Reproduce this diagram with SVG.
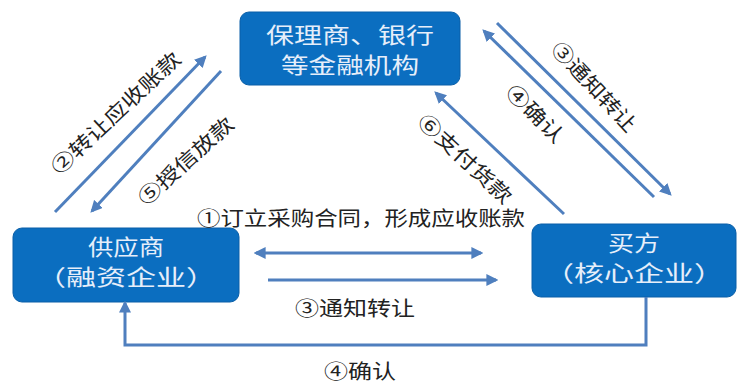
<svg xmlns="http://www.w3.org/2000/svg" width="747" height="385" viewBox="0 0 747 385">
<style>
.box{fill:#0b6ec0;stroke:#0a5fa8;stroke-width:1}
.bt{font-family:"Noto Sans CJK SC","Noto Sans",sans-serif;font-size:22px;fill:#e6eefa;text-anchor:middle}
.lb{font-family:"Noto Sans CJK SC","Noto Sans",sans-serif;font-size:20px;fill:#222;text-anchor:middle;dominant-baseline:central}
.ln{fill:none;stroke:#4f7fbe;stroke-width:3}
</style>
<defs>
<marker id="ah" viewBox="0 0 10 10" refX="8" refY="5" markerWidth="4" markerHeight="4" orient="auto-start-reverse" markerUnits="strokeWidth">
<path d="M0,0 L10,5 L0,10 z" fill="#4f7fbe"/>
</marker>
</defs>
<rect width="747" height="385" fill="#fff"/>
<g id="bank">
<rect class="box" x="240" y="12" width="220" height="73" rx="9"/>
<text class="bt" x="350" y="43" textLength="168" lengthAdjust="spacingAndGlyphs">保理商、银行</text>
<text class="bt" x="350" y="73" textLength="138" lengthAdjust="spacingAndGlyphs">等金融机构</text>
</g>
<g id="supplier">
<rect class="box" x="13" y="228" width="226" height="74" rx="9"/>
<text class="bt" x="126" y="255" textLength="76" lengthAdjust="spacingAndGlyphs">供应商</text>
<text class="bt" x="126" y="285" textLength="180" lengthAdjust="spacingAndGlyphs">（融资企业）</text>
</g>
<g id="buyer">
<rect class="box" x="532" y="224" width="204" height="73" rx="9"/>
<text class="bt" x="634" y="251" textLength="52" lengthAdjust="spacingAndGlyphs">买方</text>
<text class="bt" x="634" y="281" textLength="180" lengthAdjust="spacingAndGlyphs">（核心企业）</text>
</g>
<g id="connectors">
<line class="ln" x1="55" y1="212" x2="205" y2="57" marker-end="url(#ah)"/>
<line class="ln" x1="221" y1="71" x2="92" y2="211" marker-end="url(#ah)"/>
<line class="ln" x1="497" y1="23" x2="670" y2="194" marker-end="url(#ah)"/>
<line class="ln" x1="654" y1="197" x2="484" y2="31" marker-end="url(#ah)"/>
<line class="ln" x1="564" y1="214" x2="436" y2="93" marker-end="url(#ah)"/>
<line class="ln" x1="256" y1="253" x2="481" y2="253" marker-start="url(#ah)" marker-end="url(#ah)"/>
<line class="ln" x1="268" y1="280" x2="496" y2="280" marker-end="url(#ah)"/>
<polyline class="ln" points="646,297 646,345 125,345 125,303" marker-end="url(#ah)"/>
</g>
<g id="labels">
<text class="lb" transform="translate(115,112) rotate(-43)" textLength="168" lengthAdjust="spacingAndGlyphs">②转让应收账款</text>
<text class="lb" transform="translate(185,160) rotate(-42)" textLength="120" lengthAdjust="spacingAndGlyphs">⑤授信放款</text>
<text class="lb" transform="translate(595,86) rotate(47)" textLength="114" lengthAdjust="spacingAndGlyphs">③通知转让</text>
<text class="lb" transform="translate(536,113) rotate(45)" textLength="72" lengthAdjust="spacingAndGlyphs">④确认</text>
<text class="lb" transform="translate(466,158) rotate(43)" textLength="120" lengthAdjust="spacingAndGlyphs">⑥支付货款</text>
<text class="lb" x="361" y="217" textLength="328" lengthAdjust="spacingAndGlyphs">①订立采购合同，形成应收账款</text>
<text class="lb" x="355" y="307" textLength="120" lengthAdjust="spacingAndGlyphs">③通知转让</text>
<text class="lb" x="360" y="370" textLength="72" lengthAdjust="spacingAndGlyphs">④确认</text>
</g>
</svg>
